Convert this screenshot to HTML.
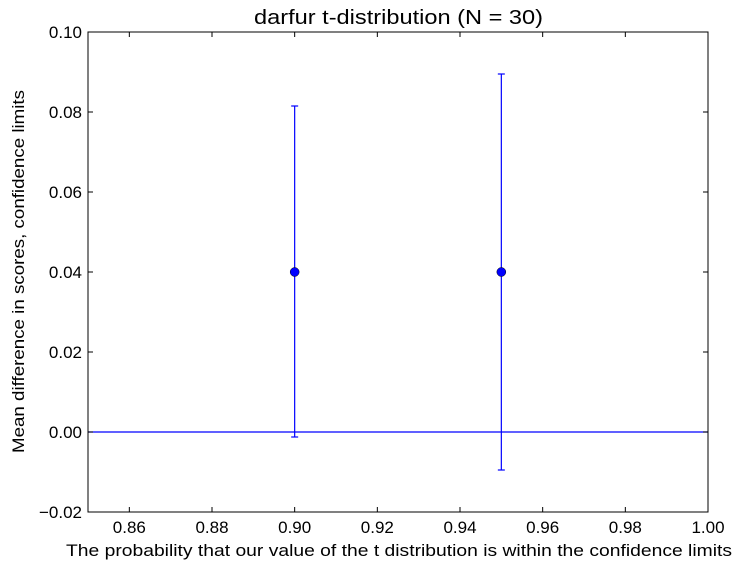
<!DOCTYPE html>
<html><head><meta charset="utf-8"><style>
body{margin:0;background:#fff;font-family:"Liberation Sans","DejaVu Sans",sans-serif;}
svg text{font-family:"Liberation Sans","DejaVu Sans",sans-serif;}
</style></head><body>
<svg id="chart" width="740" height="570" xmlns="http://www.w3.org/2000/svg">
<rect width="740" height="570" fill="#fff"/>
<g id="marks"></g>
<rect x="88" y="32" width="620" height="480" fill="none" stroke="#000" stroke-width="1"/>
<g id="axes"></g>
<text x="254" y="24" font-size="20" textLength="289" lengthAdjust="spacingAndGlyphs">darfur t-distribution (N = 30)</text>
<text x="66" y="556" font-size="17" textLength="666" lengthAdjust="spacingAndGlyphs">The probability that our value of the t distribution is within the confidence limits</text>
<text transform="translate(24,453) rotate(-90)" font-size="17" textLength="363" lengthAdjust="spacingAndGlyphs">Mean difference in scores, confidence limits</text>
</svg>
<script>
const categories=[0.90,0.95];
const means=[0.04,0.04];
const upper=[0.0815,0.0895];
const lower=[-0.00125,-0.0095];
const refLine=[0];
const xTicks=[0.86,0.88,0.90,0.92,0.94,0.96,0.98,1.00];
const yTicks=[-0.02,0.00,0.02,0.04,0.06,0.08,0.10];
const X0=88,X1=708,Y0=512,Y1=32,xmin=0.85,xmax=1.0,ymin=-0.02,ymax=0.10;
const sx=v=>X0+(v-xmin)/(xmax-xmin)*(X1-X0);
const sy=v=>Y0-(v-ymin)/(ymax-ymin)*(Y0-Y1);
const NS='http://www.w3.org/2000/svg';
function mk(t,a,p){const e=document.createElementNS(NS,t);for(const k in a)e.setAttribute(k,a[k]);p.appendChild(e);return e;}
const marks=document.getElementById('marks'),axes=document.getElementById('axes');
refLine.forEach(v=>{const l=mk('line',{x1:X0,x2:X1,y1:sy(v),y2:sy(v),stroke:'#0000ff','stroke-width':1.2},marks);

});
categories.forEach((c,i)=>{const x=sx(c);
const g=mk('g',{},marks);


mk('line',{x1:x,x2:x,y1:sy(upper[i]),y2:sy(lower[i]),stroke:'#0000ff','stroke-width':1.2},g);
mk('line',{x1:x-3.5,x2:x+3.5,y1:sy(upper[i]),y2:sy(upper[i]),stroke:'#0000ff','stroke-width':1.2},g);
mk('line',{x1:x-3.5,x2:x+3.5,y1:sy(lower[i]),y2:sy(lower[i]),stroke:'#0000ff','stroke-width':1.2},g);
const p=mk('circle',{cx:x,cy:sy(means[i]),r:4.5,fill:'#0000ff',stroke:'#000','stroke-width':0.5},g);

});
xTicks.forEach(v=>{const x=sx(v);
mk('line',{x1:x,x2:x,y1:Y0,y2:Y0-5,stroke:'#000'},axes);
mk('line',{x1:x,x2:x,y1:Y1,y2:Y1+5,stroke:'#000'},axes);
const t=mk('text',{x:x,y:Y0+21,'font-size':17,'text-anchor':'middle'},axes);
t.textContent=v.toFixed(2);

});
yTicks.forEach(v=>{const y=sy(v);
mk('line',{x1:X0,x2:X0+5,y1:y,y2:y,stroke:'#000'},axes);
mk('line',{x1:X1,x2:X1-5,y1:y,y2:y,stroke:'#000'},axes);
const t=mk('text',{x:X0-6,y:y+6,'font-size':17,'text-anchor':'end'},axes);
t.textContent=(v<0?'\u2212':'')+Math.abs(v).toFixed(2);

});
</script>
</body></html>
